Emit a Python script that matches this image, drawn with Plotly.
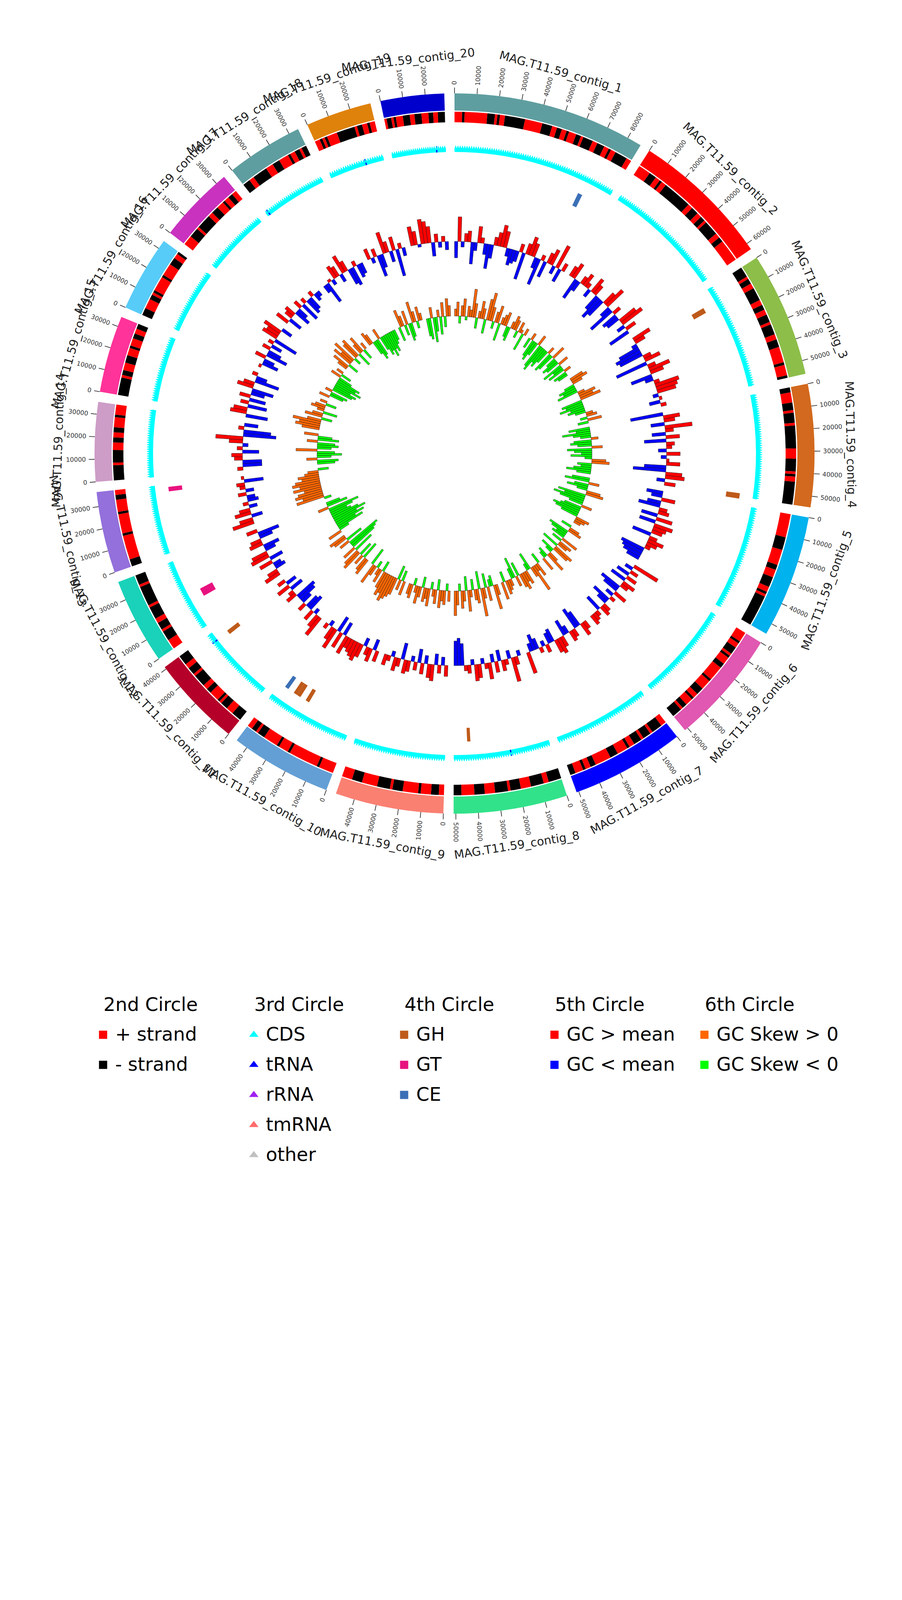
import math
import plotly.graph_objects as go

# ---------------- data ----------------
contig_names = ["MAG.T11.59_contig_%d" % i for i in range(1, 21)]
contig_len = [86500, 63000, 56000, 55000, 55000, 51500, 51000, 51000, 48500, 45500,
              41000, 38500, 36500, 35500, 34500, 34000, 34500, 34500, 29500, 28500]
contig_colors = ["#5F9EA0", "#FF0000", "#8DBE4A", "#D2691E", "#00B2EE", "#E058B1", "#0000FF",
                 "#32E28A", "#FA8072", "#639FD5", "#B5002A", "#19D2B9", "#9370DB", "#CD9CC7",
                 "#FF3399", "#57CCF8", "#C932BF", "#5F9EA0", "#DF820C", "#0000CD"]

# gene strand runs per contig: +n = n genes on + strand, -n = n genes on - strand
strand_runs = [
    [3, -1, 9, -3, 1, -1, 2, -8, 7, -4, 2, -2, 2, -1, 3, -2, 1, -4, 2, -3, 2, -1, 2, -5, 2],
    [5, -3, 2, -1, 2, -12, 2, -3, 2, -2, 1, -6, 2, -2, 9],
    [-4, 1, -2, 2, -5, 2, -2, 2, -3, 1, -4, 2, -3, 6, -1, 4, -1],
    [-2, 4, -3, 1, -4, 1, -9, 4, -5, 1, -1, 2, -9],
    [9, -5, 6, -2, 3, -4, 2, -1, 1, -12],
    [4, -1, 2, -3, 1, -1, 3, -2, 6, -1, 4, -3, 2, -1, 3, -2, 1, -4],
    [2, -4, 1, -3, 1, -3, 2, -1, 4, -3, 6, -2, 2, -1, 3, -2],
    [-5, 2, -5, 4, -4, 1, -5, 4, -4, 5, -3],
    [2, -3, 4, -1, 6, -4, 1, -5, 6, -4, 4],
    [6, -1, 12, -1, 4, -1, 6, -3, 1, -2, 2],
    [-4, 3, -3, 1, -1, 4, -2, 2, -5, 1, -3, 2, -4],
    [4, -4, 1, -3, 2, -5, 1, -8, 1, -4],
    [-3, 10, -1, 8, -1, 5, -2, 2],
    [-6, 1, -5, 3, -2, 2, -2, 4, -1, 4],
    [-7, 1, -2, 3, -3, 3, -1, 3, -2, 2, -2],
    [-3, 4, -2, 1, -1, 6, -1, 5, -3, 2, -1],
    [4, -4, 1, -6, 2, -3, 3, -1, 2, -2, 2],
    [-3, 2, -6, 3, -3, 4, -1, 2, -2, 1, -2],
    [2, -1, 1, -1, 4, -7, 1, -2, 2, -1, 2],
    [1, -2, 1, -1, 3, -3, 2, -3, 3, -2, 2, -3],
]

# tRNA genes (contig index, position bp)
trna_contig = [19, 18, 17, 10, 7]
trna_pos = [23700, 19900, 1400, 36100, 20900]

# CAZymes (4th circle)
cazy_contig = [0, 2, 3, 7, 9, 9, 9, 9, 10, 11, 12]
cazy_pos = [70600, 7400, 53100, 41800, 26300, 31900, 34100, 39900, 34400, 14400, 32600]
cazy_size = [2500, 3000, 3000, 1800, 2200, 2200, 2200, 2200, 2400, 4500, 2500]
cazy_class = ["CE", "GH", "GH", "GH", "GH", "GH", "GH", "CE", "GH", "GT", "GT"]

# GC content minus mean (%), one value per window
gc_content = [
    [-6, 9, -2, 3, 4, -8, -3, 6, 2, -4, -9, -5, 3, 5, 8, 6, -3, -6, -5, -4, 3, -10, 4, 7, 5, -4, -10, 2, -6, 4, 6, -3, 9, -5, 3],
    [4, 6, -8, -4, 3, 5, 2, -3, 6, 4, -6, -9, -7, 5, 8, -4, -10, 3, -6, -5, 7, 9, -3, 4, -8],
    [7, 4, -2, -8, -10, -9, 3, 6, -12, 3, 8, 5, -8, -3, 2, 9, 8, 7, -2, 1, -4, 2],
    [-12, 6, 4, -5, 10, 3, -5, 5, -8, 3, 2, -3, 5, -2, 1, 5, -8, -12, 6, 7, -3, 4],
    [-6, -4, 5, -5, -8, 3, 4, -6, 6, -6, 7, 5, 4, -7, 3, 6, 4, 2, -9, -8, -7, -5],
    [10, -3, 3, -5, 4, -6, 5, 3, -8, -6, 5, -3, 2, -7, -4, 3, 4, -6, 2, 3, 4],
    [3, 5, -6, -8, 3, 4, -3, -6, 4, 6, 5, -5, -4, 3, -2, 2, -4, -6, -3, 8],
    [-2, 3, 9, -3, 2, 4, -4, 4, -3, 6, 2, -2, 5, 6, -2, 3, 2, -8, -10, -9],
    [4, -3, 3, -4, 6, 5, -3, 4, -5, 3, -2, 4, 5, -6, 3, 5, -2, 2, 4],
    [4, -4, 5, 3, -3, 5, 7, 6, 5, 4, 7, -5, 6, -6, 8, 5, -2, 2],
    [8, 5, -2, 4, -6, -5, 3, -4, -7, -8, 4, 2, -5, 5, -4, 3],
    [6, 4, -4, -3, 5, -5, 7, 6, -4, -6, 5, 4, -5, -8, 4],
    [8, 5, -4, 6, 4, -3, 2, -4, -3, 3, -3, 2, 3, -7, 1],
    [2, -7, -7, 3, 4, -6, 2, -2, 5, 10, -12, -10, 2, -5],
    [-8, 6, 5, -7, 3, -6, 4, -5, -8, 6, 4, -9, -4, 2],
    [1, -6, -4, 4, -8, -5, 3, -4, 2, -9, 6, 5, 7, -4],
    [5, -5, 3, 4, -6, -4, 3, -7, 2, -6, -5, 2, -3, -2],
    [-3, -8, 1, -2, 5, 4, -3, 7, 4, -6, -7, 2, -5, -4],
    [4, -2, 3, -8, -5, 8, 4, -4, 5, -10, 2, -3],
    [7, 5, -1, 9, 8, 6, -5, 3, -2, 2, -3],
]

# GC skew (x 0.03), one value per window
gc_skew = [
    [2, 4, -2, 3, 5, -1, 3, 2, 8, 4, -3, 2, 5, 3, -4, 6, 8, 4, -2, 3, 5, -5, 2, 3, 4, -3, -4, 2, 4, 3, -2, 3, 1, -5, 2],
    [-3, 2, -5, -6, -4, 3, -7, -8, -5, -6, -4, 2, -6, -5, 4, -3, -5, -4, 3, -6, -3, -5, 2, -4, -3],
    [4, 5, 3, -3, -5, -4, -6, 2, 5, 4, 6, -6, -5, -7, -4, -5, -3, 2, 3, -2, 4, -3],
    [-6, -4, -8, -5, -3, 2, -5, -6, -4, 3, -7, -5, -3, -6, -2, 4, 5, -4, -3, -5, -7, -4],
    [-5, -7, 3, -4, -6, -3, 4, 5, -8, -6, -9, -7, -4, 3, -5, -6, -8, -7, -5, 4, 3, 2],
    [-3, 3, 4, -6, -5, -3, -4, 5, -3, 4, 3, -5, 6, 5, -4, -2, 3, 6, -3, -2, 4],
    [-3, 4, 2, 8, 3, -5, -2, 4, 3, 5, 4, -4, 3, -6, -3, 2, 3, 4, -3, 5],
    [3, 7, -3, -2, 4, -4, 3, 8, -5, 4, 3, -3, 2, 6, -4, 3, 5, -2, 4, 7],
    [3, -2, 4, 3, 5, -3, 4, 2, -2, 5, 3, 4, -3, 3, 5, 2, -2, 4, 3],
    [4, -3, 3, -4, 5, 6, 7, 8, 6, 7, 5, -3, 4, 2, -2, 3, 6, -5],
    [5, 4, -5, 3, -4, 6, 5, -6, 4, -8, -9, -10, 3, -5, 4, 5],
    [4, -3, -8, -6, -9, -7, -10, -8, -6, -5, -7, -9, 3, -6, -4],
    [-2, 8, 6, 8, 7, 5, 8, 6, 8, 7, 5, 6, 4, 3, -3],
    [-5, -6, 3, -4, -7, -5, 6, -4, -6, -5, 3, -6, -4, 4],
    [5, 7, 6, 8, 4, -3, 5, 3, -4, 2, 4, 3, -3, 2],
    [3, -4, -5, 2, -6, -7, -5, -8, -6, -7, -4, 3, -3, 2],
    [3, 5, -3, 6, 4, 7, -2, 5, 6, -4, 3, 5, -3, 2],
    [4, 3, -4, -6, -5, 3, -4, -6, -5, -7, -5, -6, -4, -3],
    [-4, 5, 3, -3, 4, -5, -4, 6, 3, -2, 4, 2],
    [-5, -6, 3, -7, -4, 2, -5, 4, -3, 5, 3],
]

legend_titles = ["2nd Circle", "3rd Circle", "4th Circle", "5th Circle", "6th Circle"]
legend_labels = [["+ strand", "- strand"],
                 ["CDS", "tRNA", "rRNA", "tmRNA", "other"],
                 ["GH", "GT", "CE"],
                 ["GC > mean", "GC < mean"],
                 ["GC Skew > 0", "GC Skew < 0"]]
legend_colors = [["#FF0000", "#000000"],
                 ["#00FFFF", "#0000FF", "#A020F0", "#FF6B6B", "#C0C0C0"],
                 ["#BE5A1A", "#E8127F", "#3B6FB6"],
                 ["#FF0000", "#0000FF"],
                 ["#FF6600", "#00FF00"]]
legend_symbols = ["square", "triangle-up", "square", "square", "square"]

# ---------------- geometry (pixels of the 2310x4620 page) ----------------
W, H = 2310, 4620
CX, CY, HALF = 1156, 1153, 1100
GAP = 1.63
R_IDEO = (878, 922)
R_STRAND = (848, 875)
R_CDS = (772, 780, 788)   # base, valley, tip of the CDS saw-tooth
R_CAZY = (703, 738)
GC_BASE, GC_K = 543, 7.0
SK_BASE, SK_K = 352, 9.0
FONT = "DejaVu Sans"

dpb = (360.0 - GAP * len(contig_len)) / sum(contig_len)
starts = []
acc = 0.0
for L in contig_len:
    starts.append(acc)
    acc += L * dpb + GAP


def theta(ci, pos):
    return starts[ci] + pos * dpb


fig = go.Figure()

# 1st circle: contigs
fig.add_trace(go.Barpolar(
    theta=[theta(i, L / 2) for i, L in enumerate(contig_len)],
    width=[L * dpb for L in contig_len],
    r=[R_IDEO[1] - R_IDEO[0]] * len(contig_len), base=R_IDEO[0],
    marker=dict(color=contig_colors, line=dict(width=0)), hoverinfo="skip"))

# 2nd circle: strand
st_t, st_w, st_c = [], [], []
for ci, runs in enumerate(strand_runs):
    n = sum(abs(v) for v in runs)
    g = contig_len[ci] / n
    k = 0
    for v in runs:
        a, b = theta(ci, k * g), theta(ci, (k + abs(v)) * g)
        st_t.append((a + b) / 2)
        st_w.append(b - a)
        st_c.append("#FF0000" if v > 0 else "#000000")
        k += abs(v)
fig.add_trace(go.Barpolar(theta=st_t, width=st_w, r=[R_STRAND[1] - R_STRAND[0]] * len(st_t),
                          base=R_STRAND[0], marker=dict(color=st_c, line=dict(width=0)),
                          hoverinfo="skip"))

# 3rd circle: CDS band (solid foot + one tooth per gene) and tRNA
fig.add_trace(go.Barpolar(
    theta=[theta(i, L / 2) for i, L in enumerate(contig_len)],
    width=[L * dpb for L in contig_len],
    r=[R_CDS[1] - R_CDS[0] + 0.5] * len(contig_len), base=R_CDS[0],
    marker=dict(color="#00FFFF", line=dict(width=0)), hoverinfo="skip"))
for ci, runs in enumerate(strand_runs):
    n = sum(abs(v) for v in runs)
    g = contig_len[ci] / n
    bounds = [theta(ci, j * g) for j in range(n + 1)]
    tt, rr = [], []
    for j in range(n):
        tt += [bounds[j], (bounds[j] + bounds[j + 1]) / 2]
        rr += [R_CDS[1], R_CDS[2]]
    tt += [bounds[n]] + bounds[::-1]
    rr += [R_CDS[1]] + [R_CDS[1] - 1] * (n + 1)
    fig.add_trace(go.Scatterpolar(theta=tt, r=rr, mode="lines", fill="toself",
                                  fillcolor="#00FFFF", line=dict(color="#00FFFF", width=1),
                                  hoverinfo="skip"))
fig.add_trace(go.Barpolar(theta=[theta(c, p) for c, p in zip(trna_contig, trna_pos)],
                          width=[0.22] * len(trna_pos), r=[R_CDS[2] - R_CDS[0]] * len(trna_pos),
                          base=R_CDS[0], marker=dict(color="#0000FF", line=dict(width=0)),
                          hoverinfo="skip"))

# 4th circle: CAZymes
cazy_col = {"GH": "#BE5A1A", "GT": "#E8127F", "CE": "#3B6FB6"}
fig.add_trace(go.Barpolar(
    theta=[theta(c, p + s / 2) for c, p, s in zip(cazy_contig, cazy_pos, cazy_size)],
    width=[s * dpb for s in cazy_size], r=[R_CAZY[1] - R_CAZY[0]] * len(cazy_pos),
    base=R_CAZY[0], marker=dict(color=[cazy_col[c] for c in cazy_class], line=dict(width=0)),
    hoverinfo="skip"))


# 5th and 6th circles: GC content / GC skew
def value_bars(series, base0, k, pos_col, neg_col):
    t, w, r, b, c = [], [], [], [], []
    for ci, vals in enumerate(series):
        step = contig_len[ci] / len(vals)
        for j, v in enumerate(vals):
            t.append(theta(ci, (j + 0.5) * step))
            w.append(step * dpb)
            r.append(abs(v) * k)
            b.append(base0 if v > 0 else base0 - abs(v) * k)
            c.append(pos_col if v > 0 else neg_col)
    return go.Barpolar(theta=t, width=w, r=r, base=b,
                       marker=dict(color=c, line=dict(color="#1A1A1A", width=0.8)),
                       hoverinfo="skip")


fig.add_trace(value_bars(gc_content, GC_BASE, GC_K, "#FF0000", "#0000FF"))
fig.add_trace(value_bars(gc_skew, SK_BASE, SK_K, "#FF6600", "#00FF00"))

# ticks on the contig ring
tk_t, tk_r = [], []
annotations = []
for ci, L in enumerate(contig_len):
    for p in range(0, L + 1, 10000):
        t = theta(ci, p)
        tk_t += [t, t, None]
        tk_r += [R_IDEO[1], R_IDEO[1] + 15, None]
        txt = str(p)
        rc = R_IDEO[1] + 22 + len(txt) * 0.636 * 16 / 2
        ang = t - 90 if t < 180 else t - 270
        annotations.append(dict(
            x=rc * math.sin(math.radians(t)), y=rc * math.cos(math.radians(t)),
            xref="x", yref="y", text=txt, showarrow=False, textangle=ang,
            xanchor="center", yanchor="middle", font=dict(family=FONT, size=16, color="#333333")))
    tm = theta(ci, L / 2)
    if 90 < tm < 270:
        ang = tm - 180
    else:
        ang = tm if tm <= 90 else tm - 360
    rl = 1015
    annotations.append(dict(
        x=rl * math.sin(math.radians(tm)), y=rl * math.cos(math.radians(tm)),
        xref="x", yref="y", text=contig_names[ci], showarrow=False, textangle=ang,
        xanchor="center", yanchor="middle", font=dict(family=FONT, size=30, color="#222222")))

fig.add_trace(go.Scatterpolar(theta=tk_t, r=tk_r, mode="lines",
                              line=dict(color="#222222", width=1.6), hoverinfo="skip"))

# invisible cartesian frame over the polar area, used to place rotated labels
fig.add_trace(go.Scatter(x=[None], y=[None], xaxis="x", yaxis="y", showlegend=False,
                         hoverinfo="skip"))

# legend block
col_x = [245, 631, 1016, 1401, 1785]
title_y, row0, row_dy = 2563, 2641, 77
lx, ly, lsym, lcol = [], [], [], []
for gi, title in enumerate(legend_titles):
    annotations.append(dict(x=col_x[gi] + 10, y=title_y, xref="x2", yref="y2", text=title,
                            showarrow=False, xanchor="left", yanchor="middle",
                            font=dict(family=FONT, size=48, color="#000000")))
    for ii, lab in enumerate(legend_labels[gi]):
        y = row0 + ii * row_dy
        lx.append(col_x[gi] + 11)
        ly.append(y)
        lsym.append(legend_symbols[gi])
        lcol.append(legend_colors[gi][ii])
        annotations.append(dict(x=col_x[gi] + 40, y=y - 2, xref="x2", yref="y2", text=lab,
                                showarrow=False, xanchor="left", yanchor="middle",
                                font=dict(family=FONT, size=48, color="#000000")))
fig.add_trace(go.Scatter(x=lx, y=ly, xaxis="x2", yaxis="y2", mode="markers",
                         marker=dict(symbol=lsym, color=lcol, size=21, line=dict(width=0)),
                         showlegend=False, hoverinfo="skip"))

dom_x = [(CX - HALF) / W, (CX + HALF) / W]
dom_y = [(H - CY - HALF) / H, (H - CY + HALF) / H]
fig.update_layout(
    width=W, height=H, margin=dict(l=0, r=0, t=0, b=0),
    paper_bgcolor="white", plot_bgcolor="rgba(0,0,0,0)", showlegend=False,
    polar=dict(domain=dict(x=dom_x, y=dom_y), bgcolor="white", barmode="overlay", hole=0,
               radialaxis=dict(range=[0, HALF], visible=False, showgrid=False),
               angularaxis=dict(direction="clockwise", rotation=90, visible=False,
                                showgrid=False)),
    xaxis=dict(domain=dom_x, range=[-HALF, HALF], visible=False, fixedrange=True),
    yaxis=dict(domain=dom_y, range=[-HALF, HALF], visible=False, fixedrange=True),
    xaxis2=dict(domain=[0, 1], range=[0, W], visible=False, anchor="y2"),
    yaxis2=dict(domain=[(H - 3100) / H, (H - 2450) / H], range=[3100, 2450], visible=False,
                anchor="x2"),
    annotations=annotations,
)

fig.write_html("out.html")
